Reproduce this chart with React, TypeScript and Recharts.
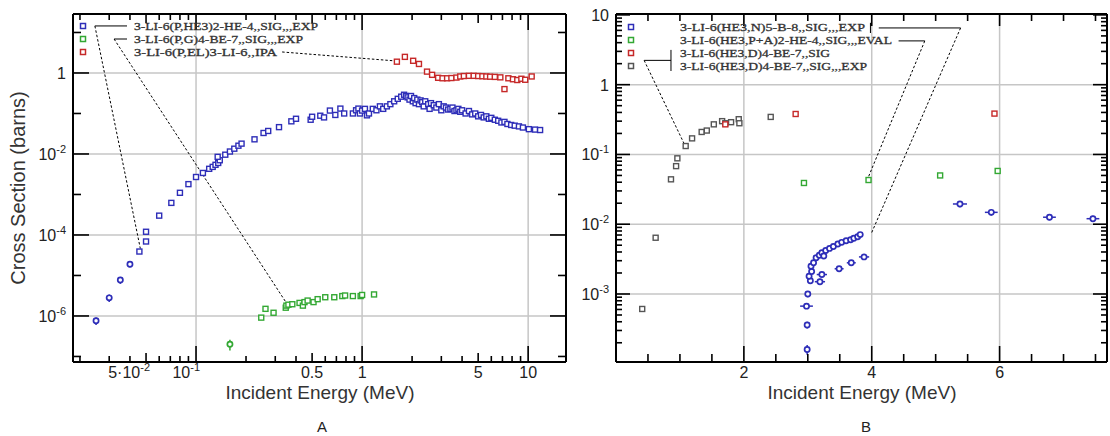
import { ScatterChart, Scatter, XAxis, YAxis, ReferenceLine, ErrorBar } from 'recharts';

const BLUE = '#2e2eb8';
const GREEN = '#33a833';
const RED = '#c62828';
const GRAY = '#555555';
const GRID = '#c6c6c6';
const SANS = '"Liberation Sans", Arial, sans-serif';
const SERIF = '"Liberation Serif", "Times New Roman", serif';

// ---------- panel A : 6Li + p ----------
// [energy MeV, cross section b]
const pHe3Squares: [number, number][] = [
  [0.0456, 3.9e-5], [0.05, 6.9e-5], [0.05, 1.2e-4], [0.06, 3.0e-4], [0.071, 6.2e-4],
  [0.08, 1.1e-3], [0.09, 1.8e-3], [0.1, 2.7e-3], [0.11, 3.4e-3], [0.12, 4.3e-3],
  [0.126, 4.8e-3], [0.131, 5.4e-3], [0.136, 6.0e-3], [0.139, 7.0e-3], [0.135, 8.5e-3],
  [0.15, 9.6e-3], [0.16, 1.15e-2], [0.17, 1.35e-2], [0.18, 1.6e-2], [0.188, 1.8e-2],
  [0.225, 2.3e-2], [0.255, 3.3e-2], [0.272, 3.7e-2], [0.316, 4.6e-2], [0.375, 6.4e-2],
  [0.4, 7.4e-2], [0.49, 7.0e-2], [0.5, 8.3e-2], [0.56, 8.8e-2], [0.59, 8.0e-2],
  [0.64, 0.118], [0.69, 0.092], [0.74, 0.132], [0.78, 0.1], [0.88, 0.1],
  [0.92, 0.12], [0.95, 0.132], [0.97, 0.1], [1.0, 0.118], [1.04, 0.13],
  [1.07, 0.09], [1.1, 0.1], [1.16, 0.13], [1.22, 0.12], [1.28, 0.15],
  [1.34, 0.13], [1.41, 0.15], [1.48, 0.17], [1.56, 0.2], [1.64, 0.23],
  [1.72, 0.26], [1.79, 0.29], [1.84, 0.27], [1.88, 0.25], [1.93, 0.22],
  [1.97, 0.27], [2.02, 0.2], [2.06, 0.24], [2.1, 0.18], [2.15, 0.22],
  [2.2, 0.17], [2.25, 0.21], [2.3, 0.19], [2.35, 0.15], [2.4, 0.2],
  [2.5, 0.17], [2.55, 0.13], [2.6, 0.18], [2.7, 0.16], [2.8, 0.14],
  [2.9, 0.17], [3.0, 0.12], [3.1, 0.15], [3.2, 0.14], [3.3, 0.125],
  [3.4, 0.13], [3.5, 0.14], [3.6, 0.115], [3.7, 0.12], [3.8, 0.13],
  [3.9, 0.11], [4.0, 0.12], [4.2, 0.1], [4.4, 0.115], [4.6, 0.095],
  [4.8, 0.1], [5.0, 0.085], [5.2, 0.092], [5.4, 0.08], [5.6, 0.085],
  [5.8, 0.074], [6.0, 0.078], [6.3, 0.07], [6.6, 0.066], [6.9, 0.06],
  [7.2, 0.062], [7.5, 0.055], [7.9, 0.052], [8.3, 0.05], [8.8, 0.048],
  [9.3, 0.045], [10.1, 0.041], [11.0, 0.04], [11.8, 0.039],
];
// [energy, sigma, dSigma]
const pHe3Circles: [number, number, number][] = [
  [0.025, 7.6e-7, 1.6e-7], [0.03, 2.8e-6, 6e-7], [0.035, 7.7e-6, 1.5e-6], [0.04, 1.9e-5, 3e-6],
];
const pGammaSquares: [number, number][] = [
  [0.247, 9.1e-7], [0.262, 1.5e-6], [0.293, 1.2e-6], [0.347, 1.6e-6], [0.35, 1.8e-6],
  [0.36, 1.9e-6], [0.38, 1.95e-6], [0.42, 2.1e-6], [0.44, 1.8e-6], [0.45, 2.2e-6],
  [0.47, 2.4e-6], [0.51, 2.2e-6], [0.54, 2.6e-6], [0.6, 2.9e-6], [0.68, 2.9e-6],
  [0.76, 3.1e-6], [0.79, 3.2e-6], [0.88, 3.1e-6], [0.98, 3.1e-6], [1.0, 3.3e-6],
  [1.18, 3.4e-6],
];
const pGammaCircles: [number, number, number][] = [[0.16, 2.0e-7, 6e-8]];
const pElastic: [number, number][] = [
  [1.62, 1.9], [1.81, 2.5], [2.03, 2.0], [2.2, 1.67], [2.46, 1.08], [2.64, 0.9],
  [2.87, 0.76], [3.05, 0.74], [3.25, 0.74], [3.45, 0.75], [3.7, 0.77], [3.9, 0.82],
  [4.1, 0.84], [4.4, 0.85], [4.7, 0.85], [5.0, 0.84], [5.3, 0.83], [5.6, 0.82],
  [5.9, 0.81], [6.3, 0.8], [6.8, 0.78], [7.2, 0.4], [7.6, 0.74], [8.1, 0.7],
  [8.6, 0.67], [9.1, 0.72], [9.6, 0.68], [10.5, 0.82],
];

// ---------- panel B : 6Li + 3He ----------
// [energy, sigma, dE, dSigma]
const he3nPoints: [number, number, number, number][] = [
  [2.99, 1.6e-4, 0, 2.5e-5], [2.99, 3.6e-4, 0, 4e-5], [2.98, 6.7e-4, 0.1, 5e-5], [3.0, 1.0e-3, 0, 1e-4],
  [3.04, 1.55e-3, 0.04, 1.3e-4], [3.02, 1.8e-3, 0.03, 1.5e-4], [3.06, 2.1e-3, 0.03, 1.5e-4],
  [3.05, 2.5e-3, 0.03, 1.5e-4], [3.09, 2.8e-3, 0.03, 1.5e-4], [3.13, 3.3e-3, 0.03, 1.5e-4],
  [3.18, 3.6e-3, 0.03, 1.5e-4], [3.22, 3.9e-3, 0.03, 1.5e-4], [3.28, 4.2e-3, 0.03, 1.5e-4],
  [3.34, 4.5e-3, 0.03, 1.5e-4], [3.4, 4.8e-3, 0.03, 1.5e-4], [3.47, 5.2e-3, 0.03, 1.5e-4],
  [3.53, 5.5e-3, 0.03, 1.5e-4], [3.6, 5.8e-3, 0.03, 1.5e-4], [3.67, 6.0e-3, 0.03, 1.5e-4],
  [3.72, 6.3e-3, 0.03, 1.5e-4], [3.78, 6.6e-3, 0.03, 1.5e-4], [3.82, 7.1e-3, 0.03, 1.5e-4],
  [3.19, 1.5e-3, 0.08, 1.5e-4], [3.22, 1.9e-3, 0.08, 1.5e-4], [3.25, 3.5e-3, 0.04, 3e-4],
  [3.49, 2.3e-3, 0.07, 2e-4], [3.68, 2.8e-3, 0.07, 2.5e-4], [3.88, 3.4e-3, 0.08, 3e-4],
  [5.38, 0.0195, 0.11, 0.002], [5.87, 0.0148, 0.1, 0.0015], [6.78, 0.0126, 0.1, 0.0012],
  [7.46, 0.012, 0.1, 0.0012],
];
const he3paPoints: [number, number][] = [[2.94, 0.039], [3.95, 0.043], [5.07, 0.05], [5.97, 0.058]];
const he3dPoints: [number, number][] = [[1.71, 0.27], [2.81, 0.38], [5.92, 0.385]];
const he3dExpPoints: [number, number][] = [
  [0.41, 6.1e-4], [0.62, 6.4e-3], [0.86, 0.044], [0.94, 0.068], [0.96, 0.088], [1.09, 0.132],
  [1.19, 0.17], [1.34, 0.21], [1.42, 0.22], [1.53, 0.27], [1.66, 0.3], [1.71, 0.28],
  [1.8, 0.29], [1.92, 0.32], [1.93, 0.28], [2.42, 0.345],
];

// ---------- legends ----------
const legendA = [
  { text: '3-LI-6(P,HE3)2-HE-4,,SIG,,,EXP', color: BLUE },
  { text: '3-LI-6(P,G)4-BE-7,,SIG,,,EXP', color: GREEN },
  { text: '3-LI-6(P,EL)3-LI-6,,IPA', color: RED },
];
const legendB = [
  { text: '3-LI-6(HE3,N)5-B-8,,SIG,,,EXP', color: BLUE },
  { text: '3-LI-6(HE3,P+A)2-HE-4,,SIG,,,EVAL', color: GREEN },
  { text: '3-LI-6(HE3,D)4-BE-7,,SIG', color: RED },
  { text: '3-LI-6(HE3,D)4-BE-7,,SIG,,,EXP', color: GRAY },
];
const legendAWidths = [184, 169, 143];
const legendBWidths = [185, 212, 150, 187];

// ---------- axes ----------
type Lab = { v: number; base: string; exp?: string };

const aXDomain = [0.01816, 16.9];
const aYDomain = [7.3e-8, 28.6];
const aXTicks = [
  0.02, 0.03, 0.04, 0.05, 0.06, 0.07, 0.08, 0.09,
  0.1, 0.2, 0.3, 0.4, 0.5, 0.6, 0.7, 0.8, 0.9,
  1, 2, 3, 4, 5, 6, 7, 8, 9, 10,
];
const aXMajor = [0.1, 1, 10];
const aXMid = [0.05, 0.5, 5];
const aXLabels: Lab[] = [
  { v: 0.05, base: '5·10', exp: '-2' }, { v: 0.1, base: '10', exp: '-1' },
  { v: 0.5, base: '0.5' }, { v: 1, base: '1' }, { v: 5, base: '5' }, { v: 10, base: '10' },
];
const aYTicks = [10, 1, 0.1, 1e-2, 1e-3, 1e-4, 1e-5, 1e-6, 1e-7];
const aYMajor = [1, 1e-2, 1e-4, 1e-6];
const aYLabels: Lab[] = [
  { v: 1, base: '1' }, { v: 1e-2, base: '10', exp: '-2' },
  { v: 1e-4, base: '10', exp: '-4' }, { v: 1e-6, base: '10', exp: '-6' },
];

const bXDomain = [0, 7.68];
const bYDomain = [1.06e-4, 10.3];
const bXTicks = [0.5, 1, 1.5, 2, 2.5, 3, 3.5, 4, 4.5, 5, 5.5, 6, 6.5, 7, 7.5];
const bXMajor = [2, 4, 6];
const bXLabels: Lab[] = [{ v: 2, base: '2' }, { v: 4, base: '4' }, { v: 6, base: '6' }];
const bYMajor = [10, 1, 0.1, 0.01, 0.001];
const bYTicks = [
  10,
  9, 8, 7, 6, 5, 4, 3, 2, 1,
  0.9, 0.8, 0.7, 0.6, 0.5, 0.4, 0.3, 0.2, 0.1,
  0.09, 0.08, 0.07, 0.06, 0.05, 0.04, 0.03, 0.02, 0.01,
  0.009, 0.008, 0.007, 0.006, 0.005, 0.004, 0.003, 0.002, 0.001,
  0.0009, 0.0008, 0.0007, 0.0006, 0.0005, 0.0004, 0.0003, 0.0002,
];
const bYLabels: Lab[] = [
  { v: 10, base: '10' }, { v: 1, base: '1' }, { v: 0.1, base: '10', exp: '-1' },
  { v: 0.01, base: '10', exp: '-2' }, { v: 0.001, base: '10', exp: '-3' },
];

const near = (a: number, b: number) => Math.abs(a - b) <= Math.abs(b) * 1e-6;

const labelText = (lab: Lab) => (
  <>
    {lab.base}
    {lab.exp && (
      <tspan dy={-7} fontSize={11}>
        {lab.exp}
      </tspan>
    )}
  </>
);

const makeTick =
  (side: 'bottom' | 'top' | 'left' | 'right', major: number[], mid: number[], lens: number[], labels: Lab[] = []) =>
  (props: any) => {
    const { x, y, payload } = props;
    const v = payload.value;
    const len = major.some((m) => near(v, m)) ? lens[0] : mid.some((m) => near(v, m)) ? lens[1] : lens[2];
    const lab = labels.find((l) => near(v, l.v));
    let line = null;
    if (side === 'bottom') line = <line x1={x} x2={x} y1={y} y2={y - len} />;
    if (side === 'top') line = <line x1={x} x2={x} y1={y} y2={y + len} />;
    if (side === 'left') line = <line x1={x} x2={x + len} y1={y} y2={y} />;
    if (side === 'right') line = <line x1={x} x2={x - len} y1={y} y2={y} />;
    let text = null;
    if (lab && side === 'bottom') {
      text = (
        <text x={lab.exp ? x + 4 : x} y={y + 16} textAnchor={lab.exp ? 'end' : 'middle'}>
          {labelText(lab)}
        </text>
      );
    }
    if (lab && side === 'left') {
      text = (
        <text x={x - 7} y={y + 6} textAnchor="end">
          {labelText(lab)}
        </text>
      );
    }
    return (
      <g stroke="#000" strokeWidth={1.6}>
        {line}
        {text && (
          <g stroke="none" fill="#222" fontFamily={SANS} fontSize={16}>
            {text}
          </g>
        )}
      </g>
    );
  };

const squareShape = (color: string) => (props: any) => {
  const { cx, cy } = props;
  if (cx == null || cy == null) return <g />;
  return <rect x={cx - 2.5} y={cy - 2.5} width={5} height={5} fill="#fff" stroke={color} strokeWidth={1.4} />;
};
const ringShape = (color: string) => (props: any) => {
  const { cx, cy } = props;
  if (cx == null || cy == null) return <g />;
  return <circle cx={cx} cy={cy} r={2.6} fill="#fff" stroke={color} strokeWidth={1.7} />;
};

const pts = (arr: number[][]) => arr.map((p) => ({ x: p[0], y: p[1], ey: p[2] ?? 0, ex: p[2] ?? 0 }));
const pts4 = (arr: number[][]) => arr.map((p) => ({ x: p[0], y: p[1], ex: p[2], ey: p[3] }));

const axisLine = { stroke: '#000', strokeWidth: 2 };
const dash = { stroke: '#000', strokeWidth: 1, strokeDasharray: '2.5 2', ifOverflow: 'visible' as const };
const solid = { stroke: '#000', strokeWidth: 1, ifOverflow: 'visible' as const };

const PanelA = () => (
  <ScatterChart width={570} height={436} margin={{ top: 0, right: 0, bottom: 0, left: 0 }}>
    <XAxis xAxisId="b" dataKey="x" type="number" scale="log" domain={aXDomain} allowDataOverflow
      ticks={aXTicks} interval={0} height={74} tickSize={0} tickMargin={0} tickLine={false} axisLine={axisLine}
      tick={makeTick('bottom', aXMajor, aXMid, [16, 9, 6], aXLabels)} />
    <XAxis xAxisId="t" dataKey="x" orientation="top" type="number" scale="log" domain={aXDomain} allowDataOverflow
      ticks={aXTicks} interval={0} height={14} tickSize={0} tickMargin={0} tickLine={false} axisLine={axisLine}
      tick={makeTick('top', aXMajor, aXMid, [16, 9, 6])} />
    <YAxis yAxisId="l" dataKey="y" type="number" scale="log" domain={aYDomain} allowDataOverflow
      ticks={aYTicks} interval={0} width={73} tickSize={0} tickMargin={0} tickLine={false} axisLine={axisLine}
      tick={makeTick('left', aYMajor, [], [16, 8, 8], aYLabels)} />
    <YAxis yAxisId="r" dataKey="y" orientation="right" type="number" scale="log" domain={aYDomain} allowDataOverflow
      ticks={aYTicks} interval={0} width={4} tickSize={0} tickMargin={0} tickLine={false} axisLine={axisLine}
      tick={makeTick('right', aYMajor, [], [16, 8, 8])} />
    {aXMajor.map((v) => (
      <ReferenceLine key={'gx' + v} xAxisId="b" yAxisId="l" x={v} stroke={GRID} strokeWidth={1.5} />
    ))}
    {aYMajor.map((v) => (
      <ReferenceLine key={'gy' + v} xAxisId="b" yAxisId="l" y={v} stroke={GRID} strokeWidth={1.5} />
    ))}
    <ReferenceLine xAxisId="b" yAxisId="l" {...solid} segment={[{ x: 0.0246, y: 14.5 }, { x: 0.0384, y: 14.5 }]} />
    <ReferenceLine xAxisId="b" yAxisId="l" {...dash} segment={[{ x: 0.0246, y: 14.5 }, { x: 0.0462, y: 4.6e-5 }]} />
    <ReferenceLine xAxisId="b" yAxisId="l" {...solid} segment={[{ x: 0.0321, y: 6.9 }, { x: 0.0384, y: 6.9 }]} />
    <ReferenceLine xAxisId="b" yAxisId="l" {...dash} segment={[{ x: 0.0321, y: 6.9 }, { x: 0.35, y: 2.1e-6 }]} />
    <ReferenceLine xAxisId="b" yAxisId="l" {...dash} segment={[{ x: 0.33, y: 3.3 }, { x: 1.55, y: 2.0 }]} />
    <Scatter xAxisId="b" yAxisId="l" data={pts(pHe3Circles)} shape={ringShape(BLUE)} isAnimationActive={false}>
      <ErrorBar dataKey="ey" direction="y" width={0} stroke={BLUE} strokeWidth={1.5} />
    </Scatter>
    <Scatter xAxisId="b" yAxisId="l" data={pts(pHe3Squares)} shape={squareShape(BLUE)} isAnimationActive={false} />
    <Scatter xAxisId="b" yAxisId="l" data={pts(pGammaCircles)} shape={ringShape(GREEN)} isAnimationActive={false}>
      <ErrorBar dataKey="ey" direction="y" width={0} stroke={GREEN} strokeWidth={1.5} />
    </Scatter>
    <Scatter xAxisId="b" yAxisId="l" data={pts(pGammaSquares)} shape={squareShape(GREEN)} isAnimationActive={false} />
    <Scatter xAxisId="b" yAxisId="l" data={pts(pElastic)} shape={squareShape(RED)} isAnimationActive={false} />
  </ScatterChart>
);

const PanelB = () => (
  <ScatterChart width={540} height={436} margin={{ top: 0, right: 0, bottom: 0, left: 0 }}>
    <XAxis xAxisId="b" dataKey="x" type="number" domain={bXDomain} allowDataOverflow
      ticks={bXTicks} interval={0} height={74} tickSize={0} tickMargin={0} tickLine={false} axisLine={axisLine}
      tick={makeTick('bottom', bXMajor, [], [16, 8, 8], bXLabels)} />
    <XAxis xAxisId="t" dataKey="x" orientation="top" type="number" domain={bXDomain} allowDataOverflow
      ticks={bXTicks} interval={0} height={14} tickSize={0} tickMargin={0} tickLine={false} axisLine={axisLine}
      tick={makeTick('top', bXMajor, [], [12, 7, 7])} />
    <YAxis yAxisId="l" dataKey="y" type="number" scale="log" domain={bYDomain} allowDataOverflow
      ticks={bYTicks} interval={0} width={46} tickSize={0} tickMargin={0} tickLine={false} axisLine={axisLine}
      tick={makeTick('left', bYMajor, [], [14, 6, 6], bYLabels)} />
    <YAxis yAxisId="r" dataKey="y" orientation="right" type="number" scale="log" domain={bYDomain} allowDataOverflow
      ticks={bYTicks} interval={0} width={3} tickSize={0} tickMargin={0} tickLine={false} axisLine={axisLine}
      tick={makeTick('right', bYMajor, [], [14, 6, 6])} />
    {bXMajor.map((v) => (
      <ReferenceLine key={'gx' + v} xAxisId="b" yAxisId="l" x={v} stroke={GRID} strokeWidth={1.5} />
    ))}
    {bYMajor.slice(1).map((v) => (
      <ReferenceLine key={'gy' + v} xAxisId="b" yAxisId="l" y={v} stroke={GRID} strokeWidth={1.5} />
    ))}
    <ReferenceLine xAxisId="b" yAxisId="l" {...solid} segment={[{ x: 3.98, y: 7.7 }, { x: 3.98, y: 5.5 }]} />
    <ReferenceLine xAxisId="b" yAxisId="l" {...solid} segment={[{ x: 4.11, y: 6.5 }, { x: 5.39, y: 6.5 }]} />
    <ReferenceLine xAxisId="b" yAxisId="l" {...dash} segment={[{ x: 5.39, y: 6.5 }, { x: 4.0, y: 7.6e-3 }]} />
    <ReferenceLine xAxisId="b" yAxisId="l" {...solid} segment={[{ x: 4.42, y: 4.24 }, { x: 4.83, y: 4.24 }]} />
    <ReferenceLine xAxisId="b" yAxisId="l" {...dash} segment={[{ x: 4.83, y: 4.24 }, { x: 3.95, y: 0.048 }]} />
    <ReferenceLine xAxisId="b" yAxisId="l" {...solid} segment={[{ x: 0.86, y: 3.15 }, { x: 0.86, y: 1.57 }]} />
    <ReferenceLine xAxisId="b" yAxisId="l" {...solid} segment={[{ x: 0.44, y: 2.23 }, { x: 0.86, y: 2.23 }]} />
    <ReferenceLine xAxisId="b" yAxisId="l" {...dash} segment={[{ x: 0.44, y: 2.23 }, { x: 1.07, y: 0.14 }]} />
    <Scatter xAxisId="b" yAxisId="l" data={pts(he3dExpPoints)} shape={squareShape(GRAY)} isAnimationActive={false} />
    <Scatter xAxisId="b" yAxisId="l" data={pts(he3dPoints)} shape={squareShape(RED)} isAnimationActive={false} />
    <Scatter xAxisId="b" yAxisId="l" data={pts(he3paPoints)} shape={squareShape(GREEN)} isAnimationActive={false} />
    <Scatter xAxisId="b" yAxisId="l" data={pts4(he3nPoints)} shape={ringShape(BLUE)} isAnimationActive={false}>
      <ErrorBar dataKey="ex" direction="x" width={0} stroke={BLUE} strokeWidth={1.5} />
      <ErrorBar dataKey="ey" direction="y" width={0} stroke={BLUE} strokeWidth={1.5} />
    </Scatter>
  </ScatterChart>
);

const Legend = ({ items, widths, mx, tx, y0, dy }: { items: { text: string; color: string }[]; widths: number[]; mx: number; tx: number; y0: number; dy: number }) => (
  <g>
    {items.map((it, i) => (
      <g key={it.text}>
        <rect x={mx - 2.5} y={y0 + i * dy - 2.5} width={5} height={5} fill="#fff" stroke={it.color} strokeWidth={1.5} />
        <text x={tx} y={y0 + i * dy + 4} fontFamily={SERIF} fontSize={11} fill="#333" stroke="#333" strokeWidth={0.3}
          textLength={widths[i]} lengthAdjust="spacingAndGlyphs">
          {it.text}
        </text>
      </g>
    ))}
  </g>
);

export default function App() {
  return (
    <div style={{ position: 'absolute', left: 0, top: 0, width: 1110, height: 436, background: '#fff', overflow: 'hidden' }}>
      <div style={{ position: 'absolute', left: 0, top: 0 }}>
        <PanelA />
      </div>
      <div style={{ position: 'absolute', left: 570, top: 0 }}>
        <PanelB />
      </div>
      <svg width={1110} height={436} style={{ position: 'absolute', left: 0, top: 0, pointerEvents: 'none' }}>
        <Legend items={legendA} widths={legendAWidths} mx={83} tx={134} y0={26} dy={13} />
        <Legend items={legendB} widths={legendBWidths} mx={631} tx={680} y0={27} dy={13} />
        <text x={18} y={188} transform="rotate(-90 18 188)" textAnchor="middle" dominantBaseline="central"
          fontFamily={SANS} fontSize={20} fill="#333">
          Cross Section (barns)
        </text>
        <text x={320} y={399} textAnchor="middle" fontFamily={SANS} fontSize={19} fill="#333">
          Incident Energy (MeV)
        </text>
        <text x={862} y={399} textAnchor="middle" fontFamily={SANS} fontSize={19} fill="#333">
          Incident Energy (MeV)
        </text>
        <text x={322} y={432} textAnchor="middle" fontFamily={SANS} fontSize={15} fill="#222">
          A
        </text>
        <text x={866} y={432} textAnchor="middle" fontFamily={SANS} fontSize={15} fill="#222">
          B
        </text>
      </svg>
    </div>
  );
}
